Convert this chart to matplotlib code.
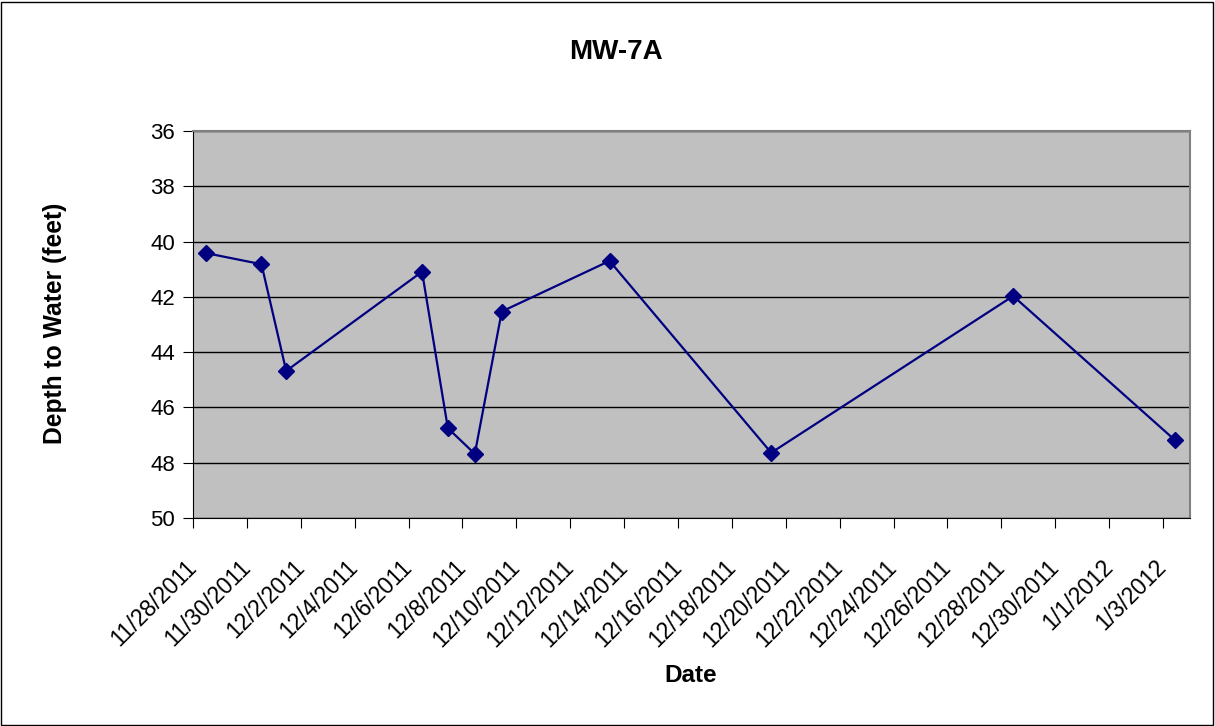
import matplotlib.pyplot as plt
import matplotlib.dates as mdates
from datetime import datetime, timedelta

plt.rcParams['font.family'] = ['Liberation Sans', 'DejaVu Sans']

dates = ["2011-11-28 12:00", "2011-11-30 13:00", "2011-12-01 11:00", "2011-12-06 12:00",
         "2011-12-07 11:00", "2011-12-08 11:00", "2011-12-09 11:00", "2011-12-13 11:00",
         "2011-12-19 11:00", "2011-12-28 10:30", "2012-01-03 10:30"]
depth = [40.42, 40.82, 44.68, 41.09, 46.75, 47.68, 42.53, 40.7, 47.64, 41.97, 47.18]

x = [datetime.strptime(d, "%Y-%m-%d %H:%M") for d in dates]
start, end = datetime(2011, 11, 28), datetime(2012, 1, 4)

W, H = 1215, 726
fig = plt.figure(figsize=(W / 100, H / 100), dpi=100)
ax = fig.add_axes([193 / W, 1 - 518 / H, (1190 - 193) / W, (518 - 131) / H])

# outer frame like the Excel chart area
fig.patches.append(plt.Rectangle((0.001, 0.002), 0.997, 0.995, transform=fig.transFigure,
                                 fill=False, edgecolor='black', linewidth=1))

ax.set_facecolor('#C0C0C0')
ax.plot(x, depth, color='#000080', linewidth=1.6, marker='D', markersize=8.5, zorder=3)

ax.set_xlim(start, end)
ax.set_ylim(50, 36)
ax.set_yticks(range(36, 51, 2))
ticks = mdates.drange(start, end, timedelta(days=2))
ax.set_xticks(ticks)
ax.set_xticklabels([mdates.num2date(t).strftime("%-m/%-d/%Y") for t in ticks],
                   rotation=45, ha='right', va='center', rotation_mode='anchor', fontsize=16.5)
ax.tick_params(axis='y', labelsize=16, length=7, direction='out', pad=6)
ax.tick_params(axis='x', length=7, direction='out', pad=26)

ax.grid(axis='y', color='black', linewidth=1)
ax.set_axisbelow(True)
for s in ['top', 'right']:
    ax.spines[s].set_color('#808080')
    ax.spines[s].set_linewidth(1.5)
for s in ['left', 'bottom']:
    ax.spines[s].set_color('black')

fig.text(616 / W, 1 - 52 / H, "MW-7A", fontsize=20, fontweight='bold', ha='center', va='center')
fig.text(55 / W, 1 - 323 / H, "Depth to Water (feet)", fontsize=17.7, fontweight='bold',
         rotation=90, ha='center', va='center')
fig.text(691 / W, 1 - 675 / H, "Date", fontsize=17.5, fontweight='bold', ha='center', va='center')

fig.savefig("out.png", dpi=100)
